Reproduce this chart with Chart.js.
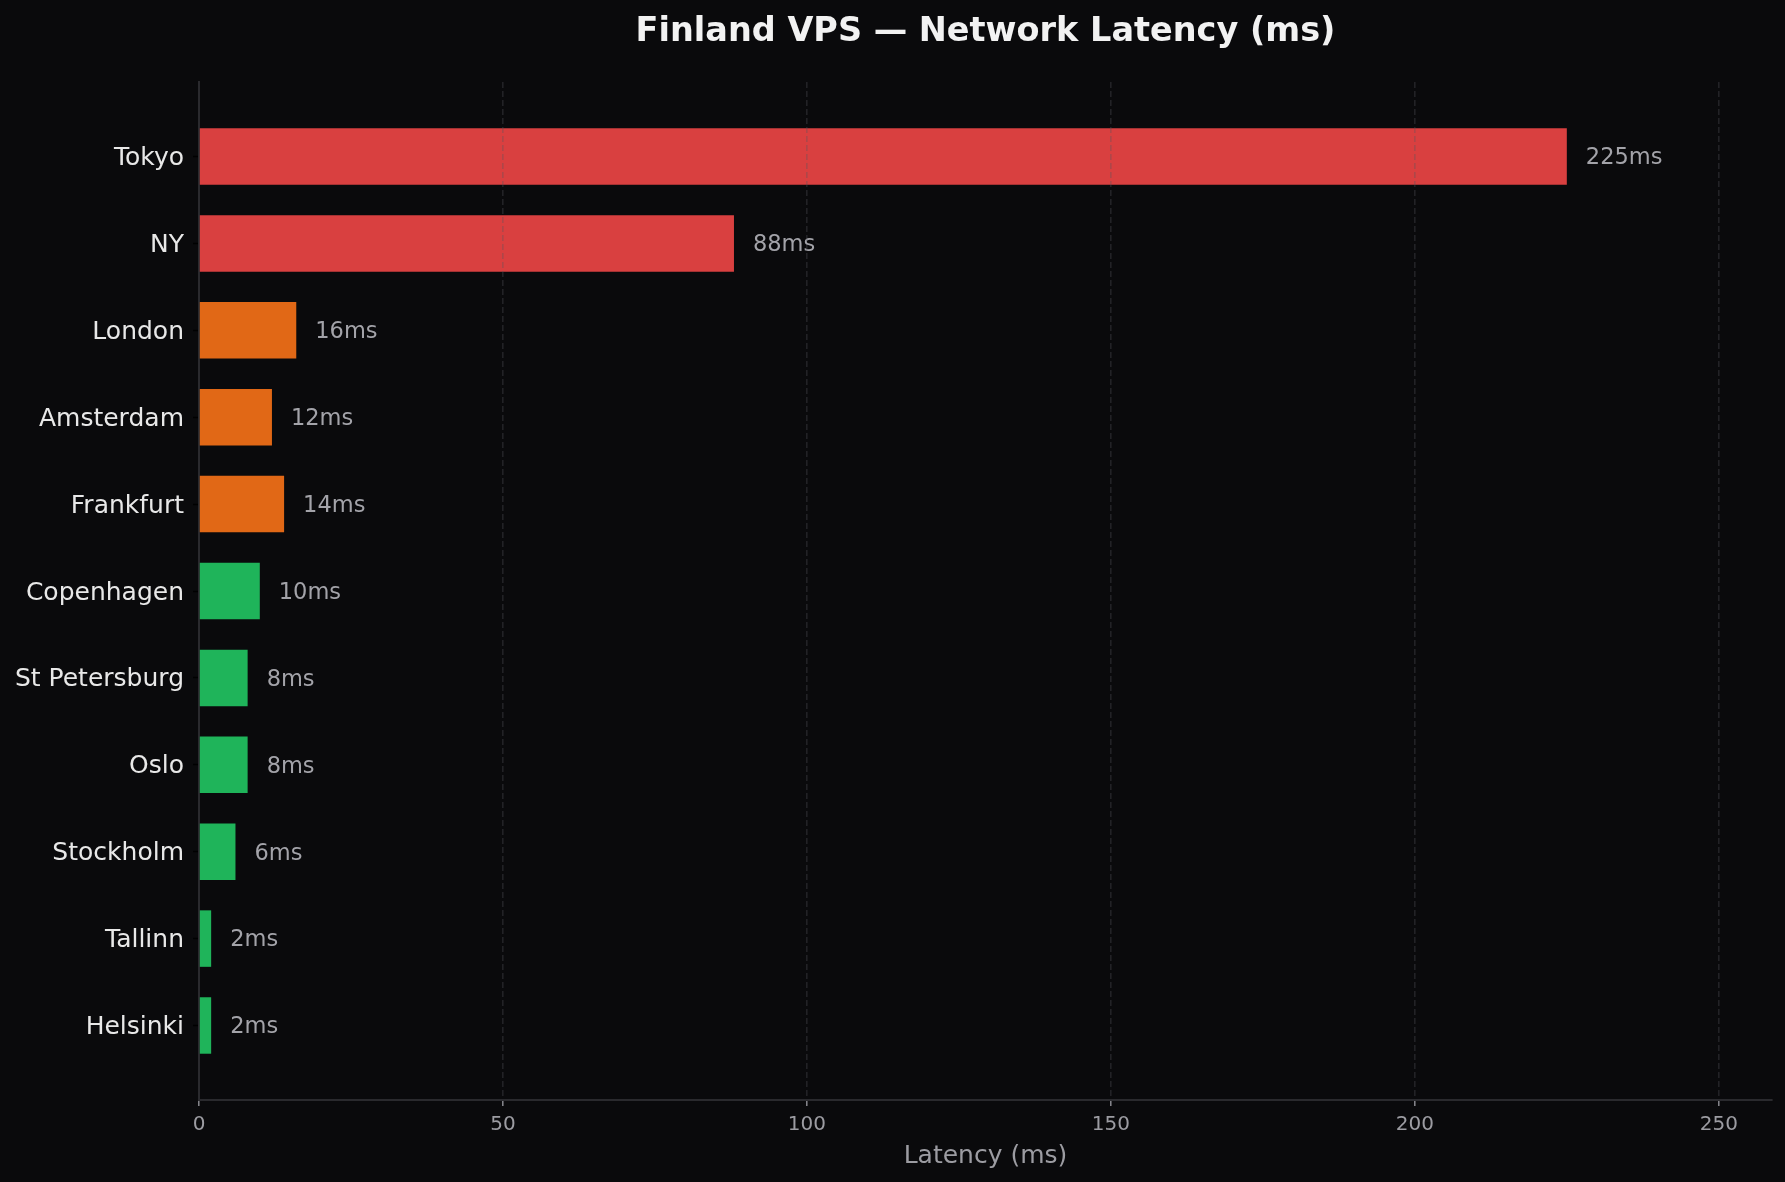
<!DOCTYPE html>
<html>
<head>
<meta charset="utf-8">
<title>Finland VPS — Network Latency</title>
<script src="https://cdn.jsdelivr.net/npm/chart.js@4.4.1/dist/chart.umd.min.js"></script>
<style>
  html, body { margin: 0; padding: 0; background: #0a0a0c; }
  #wrap { width: 1785px; height: 1182px; }
</style>
</head>
<body>
<div id="wrap"><canvas id="latencyChart" width="1785" height="1182"></canvas></div>
<script>
// data, top to bottom as in the picture
var cities = ["Tokyo", "NY", "London", "Amsterdam", "Frankfurt", "Copenhagen",
              "St Petersburg", "Oslo", "Stockholm", "Tallinn", "Helsinki"];
var latency = [225, 88, 16, 12, 14, 10, 8, 8, 6, 2, 2];
var xTicks = [0, 50, 100, 150, 200, 250];
var chartTitle = "Finland VPS — Network Latency (ms)";

var FONT = "'DejaVu Sans', 'Liberation Sans', sans-serif";

function barColor(v) {
    if (v >= 50) return "#d94040";
    if (v >= 12) return "#e16816";
    return "#1fb45a";
}

var points = [];
for (var i = 0; i < cities.length; i++) {
    points.push({ x: latency[i], y: i });
}

// "225ms" text next to each bar, and the title centred on the plot area
var labelsPlugin = {
    id: "labelsPlugin",
    afterDatasetsDraw: function(chart) {
        var ctx = chart.ctx;
        var meta = chart.getDatasetMeta(0);
        ctx.save();
        ctx.font = "22.5px " + FONT;
        ctx.fillStyle = "#a3a3a9";
        ctx.textAlign = "left";
        ctx.textBaseline = "middle";
        meta.data.forEach(function(bar, i) {
            ctx.fillText(latency[i] + "ms", bar.x + 19, bar.y + 2);
        });
        ctx.restore();
    },
    afterDraw: function(chart) {
        var ctx = chart.ctx;
        var area = chart.chartArea;
        ctx.save();
        ctx.font = "bold 33.5px " + FONT;
        ctx.fillStyle = "#f2f2f2";
        ctx.textAlign = "center";
        ctx.textBaseline = "middle";
        ctx.fillText(chartTitle, (area.left + area.right) / 2, 32);
        ctx.restore();
    }
};

var ctx = document.getElementById("latencyChart").getContext("2d");
var chart = new Chart(ctx, {
    type: "bar",
    data: {
        datasets: [{
            label: "Latency",
            data: points,
            backgroundColor: function(c) { return barColor(latency[c.dataIndex]); },
            borderWidth: 0,
            categoryPercentage: 1,
            barPercentage: 0.65
        }]
    },
    options: {
        indexAxis: "y",
        responsive: false,
        animation: false,
        devicePixelRatio: 1,
        layout: { padding: { left: 0, right: 13, top: 82, bottom: 0 } },
        plugins: {
            legend: { display: false },
            tooltip: { enabled: false },
            title: { display: false }
        },
        scales: {
            x: {
                type: "linear",
                bounds: "data",
                min: 0,
                max: 258.75,
                afterBuildTicks: function(scale) {
                    scale.ticks = xTicks.map(function(v) { return { value: v }; });
                },
                afterFit: function(scale) { scale.height = 82; },
                ticks: {
                    color: "#9c9ca2",
                    font: { family: FONT, size: 20 },
                    padding: 7
                },
                grid: {
                    z: 1,   // grid drawn over the bars, like the original
                    color: function(c) {
                        return c.tick && c.tick.value === 0 ? "rgba(0,0,0,0)" : "rgba(85,85,92,0.33)";
                    },
                    lineWidth: 1.6,
                    tickColor: "#8a8a90",
                    tickWidth: 1.5,
                    tickLength: 6
                },
                border: { display: true, z: 1, color: "#2a2a2e", width: 2, dash: [6, 3] },
                title: {
                    display: true,
                    text: "Latency (ms)",
                    color: "#9c9ca2",
                    font: { family: FONT, size: 25 },
                    padding: { top: 0, bottom: 11 }
                }
            },
            y: {
                type: "linear",
                bounds: "data",
                offset: false,
                reverse: true,
                min: -0.8575,
                max: 10.8575,
                afterBuildTicks: function(scale) {
                    scale.ticks = cities.map(function(c, i) { return { value: i }; });
                },
                afterFit: function(scale) { scale.width = 199; },
                ticks: {
                    autoSkip: false,
                    color: "#e8e8e8",
                    font: { family: FONT, size: 25 },
                    padding: 9,
                    labelOffset: 2,
                    callback: function(v) { return cities[v]; }
                },
                grid: {
                    offset: false,
                    drawOnChartArea: false,
                    drawTicks: true,
                    tickLength: 6,
                    tickColor: "#000000",
                    tickWidth: 1.5
                },
                border: { display: true, color: "#2a2a2e", width: 2 }
            }
        }
    },
    plugins: [labelsPlugin]
});
</script>
</body>
</html>
